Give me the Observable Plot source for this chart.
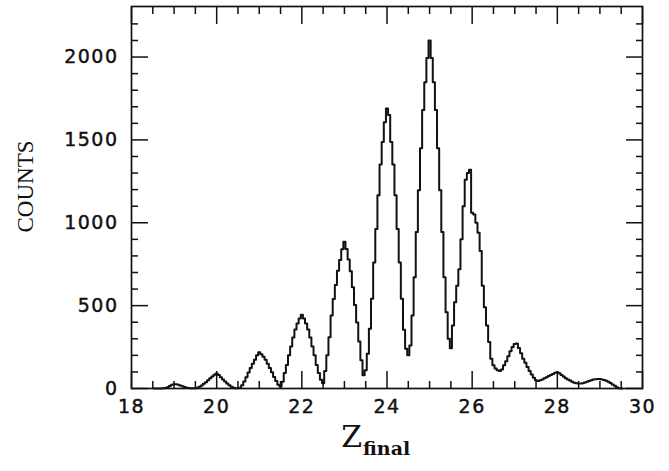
<!DOCTYPE html>
<html><head><meta charset="utf-8">
<script src="https://cdn.jsdelivr.net/npm/d3@7"></script>
<script src="https://cdn.jsdelivr.net/npm/@observablehq/plot@0.6"></script>
<style>
body{margin:0;background:#fff}
#chart svg{display:block;background:#fff}
svg [aria-label="y-axis tick label"] text, svg [aria-label="x-axis tick label"] text{letter-spacing:1.5px;stroke:#111;stroke-width:0.45px}
</style></head><body><div id="chart"></div>
<script>
// histogram bins (left edge of the first bin, bin width) and counts per bin
const binStart = 18.525;
const binWidth = 0.05;
const counts = [
  0,0,0,0,1,3,8,15,22,26,25,22,18,13,9,5,3,2,2,2,
  4,10,18,28,38,50,62,73,83,90,82,68,55,42,30,19,10,5,2,1,
  4,20,42,68,96,124,150,174,200,218,207,192,174,150,124,98,70,46,22,12,
  40,93,142,200,254,307,356,392,423,445,423,392,356,307,254,200,142,93,53,32,
  106,200,310,440,540,625,710,775,840,885,841,779,708,611,504,398,283,170,80,110,
  210,360,541,760,963,1166,1352,1487,1606,1690,1650,1487,1352,1166,963,760,541,355,240,200,
  260,441,672,945,1197,1449,1680,1848,1995,2100,1995,1848,1680,1449,1197,945,672,460,300,243,
  380,520,620,720,900,1100,1260,1300,1320,1060,1050,1000,940,830,620,490,380,280,180,140,
  120,110,105,115,140,165,195,225,250,268,272,245,212,180,155,130,105,85,65,50,
  45,50,55,62,68,75,82,88,95,98,92,82,72,62,55,48,40,35,31,30,
  30,32,36,41,45,50,54,56,58,57,55,52,47,40,33,24,16,8,2,0
];
const xDomain = [18, 30];
const yDomain = [0, 2305];
const xMajorTicks = [18, 20, 22, 24, 26, 28, 30];
const xMinorTicks = [18.5, 19, 19.5, 20.5, 21, 21.5, 22.5, 23, 23.5, 24.5, 25, 25.5, 26.5, 27, 27.5, 28.5, 29, 29.5];
const yMajorTicks = [0, 500, 1000, 1500, 2000];
const yMinorTicks = [100, 200, 300, 400, 600, 700, 800, 900, 1100, 1200, 1300, 1400, 1600, 1700, 1800, 1900, 2100, 2200];
const yLabel = "COUNTS";
const xLabelMain = "Z";
const xLabelSub = "final";

const steps = counts.map((c, i) => ({x: binStart + i * binWidth, y: c}));
steps.push({x: binStart + counts.length * binWidth, y: counts[counts.length - 1]});

const tickFont = {fontSize: 19, fontFamily: "DejaVu Sans", fill: "#111"};
const blank = () => "";
const tk = {stroke: "#111", strokeWidth: 1.5, label: null, tickFormat: blank};

const chart = Plot.plot({
  width: 669, height: 471,
  marginLeft: 131, marginRight: 27, marginTop: 6, marginBottom: 83,
  x: {domain: xDomain},
  y: {domain: yDomain},
  style: {background: "#fff", color: "#111"},
  marks: [
    // inward ticks on all four sides
    Plot.axisX(xMajorTicks, {anchor: "bottom", tickSize: -17, ...tk}),
    Plot.axisX(xMinorTicks, {anchor: "bottom", tickSize: -7, ...tk}),
    Plot.axisX(xMajorTicks, {anchor: "top", tickSize: -17, ...tk}),
    Plot.axisX(xMinorTicks, {anchor: "top", tickSize: -7, ...tk}),
    Plot.axisY(yMajorTicks, {anchor: "left", tickSize: -17, ...tk}),
    Plot.axisY(yMinorTicks, {anchor: "left", tickSize: -7, ...tk}),
    Plot.axisY(yMajorTicks, {anchor: "right", tickSize: -17, ...tk}),
    Plot.axisY(yMinorTicks, {anchor: "right", tickSize: -7, ...tk}),
    // tick labels
    Plot.axisX(xMajorTicks, {anchor: "bottom", tickSize: 0, tickPadding: 11, label: null, tickFormat: d3.format("d"), ...tickFont}),
    Plot.axisY(yMajorTicks, {anchor: "left", tickSize: 0, tickPadding: 13, label: null, tickFormat: d3.format("d"), ...tickFont}),
    Plot.frame({stroke: "#111", strokeWidth: 1.7}),
    Plot.line(steps, {x: "x", y: "y", curve: "step-after", stroke: "#111", strokeWidth: 2}),
    // axis titles
    Plot.text([yLabel], {frameAnchor: "left", text: d => d, rotate: -90, dx: -106, dy: -11,
      fontSize: 23, fontFamily: "Liberation Serif", fill: "#111", textAnchor: "middle", lineAnchor: "middle"}),
    Plot.text([xLabelMain], {frameAnchor: "bottom", text: d => d, dx: -25, dy: 58,
      fontSize: 30, fontFamily: "DejaVu Serif", fill: "#111", textAnchor: "end", lineAnchor: "bottom"}),
    Plot.text([xLabelSub], {frameAnchor: "bottom", text: d => d, dx: -24, dy: 66,
      fontSize: 19, fontFamily: "DejaVu Serif", fontWeight: "bold", fill: "#111", textAnchor: "start", lineAnchor: "bottom"})
  ]
});
document.getElementById("chart").append(chart);
</script></body></html>
